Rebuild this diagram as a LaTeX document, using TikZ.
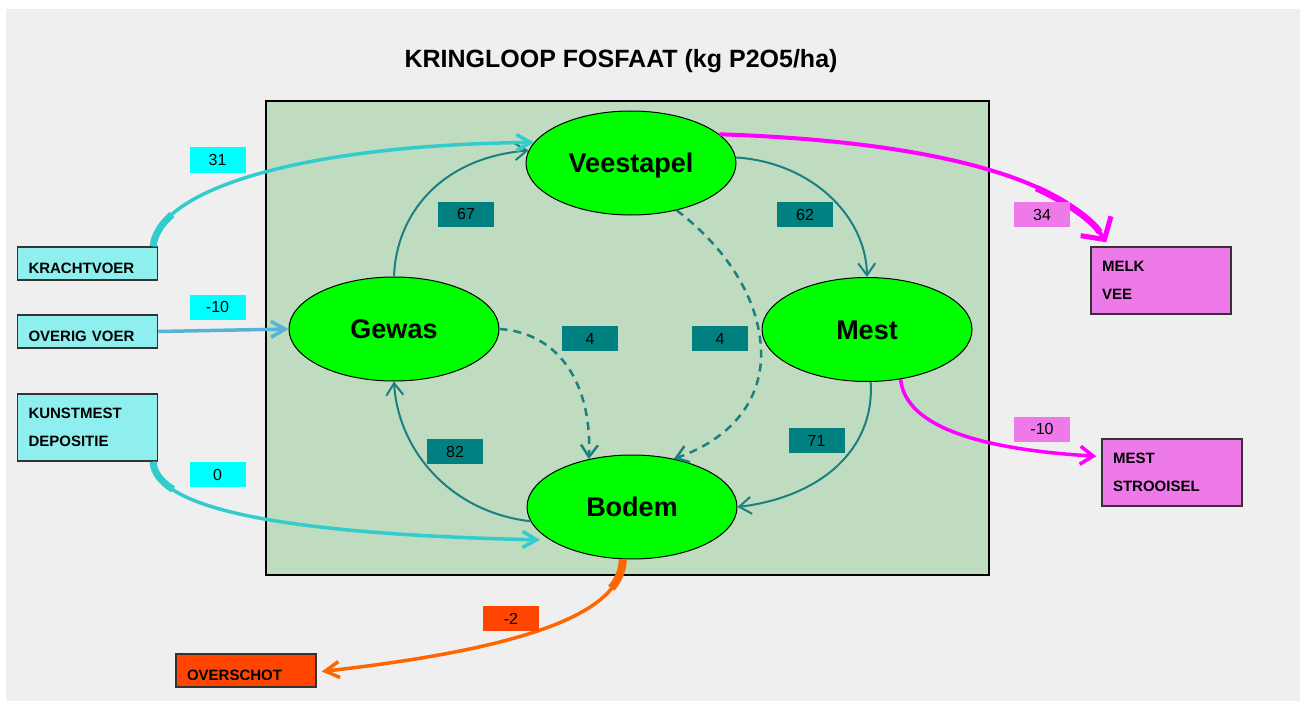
\documentclass[tikz,border=0pt]{standalone}
\usepackage{fontspec}
\setmainfont{Liberation Sans}
\usetikzlibrary{shapes.geometric,arrows.meta,calc}
\definecolor{bggray}{HTML}{EFEFEF}
\definecolor{moneygreen}{HTML}{C0DCC0}
\definecolor{limegreen}{HTML}{00FF00}
\definecolor{tealc}{HTML}{008080}
\definecolor{tealline}{HTML}{1A8080}
\definecolor{cyanlab}{HTML}{00FFFF}
\definecolor{cyanbox}{HTML}{8FEFEE}
\definecolor{cyanflow}{HTML}{33CCCC}
\definecolor{blueflow}{HTML}{58B2D6}
\definecolor{violetbox}{HTML}{EE7AE9}
\definecolor{magflow}{HTML}{FF00FF}
\definecolor{redbox}{HTML}{FF4500}
\definecolor{orangeflow}{HTML}{FF6600}
\definecolor{boxline}{HTML}{333333}
\begin{document}
\begin{tikzpicture}[x=1pt,y=-1pt,
  ell/.style={ellipse, draw=black, line width=1, fill=limegreen, minimum width=210pt, minimum height=104pt, inner sep=0pt, font=\fontsize{27}{30}\selectfont\bfseries, text height=19.3pt, text depth=0pt},
  srcbox/.style={rectangle, draw=boxline, line width=1.5, inner xsep=11pt, inner ysep=0pt, text width=118pt, align=left, font=\fontsize{15}{28}\selectfont\bfseries},
  onebox/.style={srcbox, minimum height=33pt, text height=19pt, text depth=0pt},
  twobox/.style={srcbox, minimum height=67pt},
  val/.style={rectangle, inner sep=0pt, minimum width=56pt, minimum height=25pt, text height=11.5pt, text depth=0pt, font=\fontsize{16}{18}\selectfont},
  tealflow/.style={draw=tealline, line width=2, -{Straight Barb[length=12pt,width=17pt]}},
  tealdash/.style={tealflow, line width=2.5, dash pattern=on 8pt off 6pt},
  cyanarrow/.style={draw=cyanflow, line width=3.5, -{Straight Barb[length=14pt,width=16pt]}},
  taper/.style={line width=7, line cap=butt},
]
\useasboundingbox (0,0) rectangle (1306,706);
\fill[white] (0,0) rectangle (1306,706);
\fill[bggray] (6,9) rectangle (1300,701);
\draw[fill=moneygreen, draw=black, line width=1.2] (266,101) rectangle (989,575);

\node[font=\fontsize{25}{28}\selectfont\bfseries, anchor=base] (title) at (621,68) {KRINGLOOP FOSFAAT (kg P2O5/ha)};

% ellipses
\node[ell] (vee) at (631,163) {Veestapel};
\node[ell] (gew) at (394,329) {Gewas};
\node[ell] (mest) at (867,329.5) {Mest};
\node[ell] (bod) at (632,507) {Bodem};

% source / sink boxes
\node[onebox, fill=cyanbox] (kv) at (87.5,263.5) {KRACHTVOER};
\node[onebox, fill=cyanbox] (ov) at (87.5,331.5) {OVERIG VOER};
\node[twobox, fill=cyanbox] (km) at (87.5,427.5) {KUNSTMEST\\DEPOSITIE};
\node[twobox, fill=violetbox] (mv) at (1161,280.5) {MELK\\VEE};
\node[twobox, fill=violetbox] (ms) at (1172,472.5) {MEST\\STROOISEL};
\node[onebox, fill=redbox] (os) at (246,670.5) {OVERSCHOT};

% internal flows
\draw[tealflow] (gew.north) .. controls (396,215) and (440,158) .. (vee.173);
\draw[tealflow] (vee.3) .. controls (810,162) and (866,215) .. (mest.north);
\draw[tealflow] (mest.-86) .. controls (875,450) and (820,497) .. (bod.east);
\draw[tealflow] (bod.188) .. controls (450,512) and (398,450) .. (gew.south);
\draw[tealdash] (gew.east) .. controls (560,333) and (592,385) .. (bod.132);
\draw[tealdash] (vee.-46) .. controls (735,255) and (763,310) .. (761,360) .. controls (758,410) and (722,442) .. (bod.49);

% inflows
\draw[draw=cyanflow, taper] ($(kv.north east)+(-5,0)$) .. controls (154,235.6) and (160.5,224.7) .. (172,214.5);
\draw[cyanarrow] ($(kv.north east)+(-5,0)$) .. controls (158,190) and (300,145) .. (vee.168);
\draw[draw=blueflow, line width=3.5, -{Straight Barb[length=14pt,width=16pt]}] (ov.east) -- (gew.west);
\draw[draw=cyanflow, taper] ($(km.south east)+(-5,0)$) .. controls (153.4,471.8) and (160.3,481.2) .. (173,489.4);
\draw[cyanarrow, shorten >=10pt] ($(km.south east)+(-5,0)$) .. controls (155,515) and (320,535) .. (bod.202);

% outflows
\draw[draw=magflow, line width=6.5, line cap=butt, shorten >=12pt] (1036.3,188.1) .. controls (1068.1,202.6) and (1092.2,220.4) .. ($(mv.north west)+(16,-4)$);
\draw[draw=magflow, line width=4, -{Straight Barb[length=16pt,width=36pt,line width=5pt]}] (vee.18) .. controls (900,140) and (1060,170) .. ($(mv.north west)+(16,-4)$);
\draw[draw=magflow, line width=3.5, -{Straight Barb[length=13pt,width=18pt]}] (mest.-56) .. controls (905,420) and (960,448) .. ($(ms.north west)+(-5,18)$);
\draw[draw=orangeflow, taper, line width=8] (bod.-100) .. controls (622.8,568.8) and (619,578.9) .. (611.3,588.3);
\draw[draw=orangeflow, line width=3.5, -{Straight Barb[length=14pt,width=16pt]}] (bod.-100) .. controls (622,612) and (530,648) .. ($(os.east)+(5,1)$);

% value labels
\node[val, fill=cyanlab] (l31) at (217.5,160) {31};
\node[val, fill=cyanlab] (l10a) at (217.5,307) {-10};
\node[val, fill=cyanlab] (l0) at (217.5,474.5) {0};
\node[val, fill=tealc] (l67) at (466,214) {67};
\node[val, fill=tealc] (l82) at (455,451.5) {82};
\node[val, fill=tealc] (l62) at (805,214.5) {62};
\node[val, fill=tealc] (l71) at (816.5,440.5) {71};
\node[val, fill=tealc] (l4a) at (590,338.5) {4};
\node[val, fill=tealc] (l4b) at (720,338.5) {4};
\node[val, fill=violetbox] (l34) at (1042,214.5) {34};
\node[val, fill=violetbox] (l10b) at (1042,429) {-10};
\node[val, fill=redbox] (l2) at (511,618.5) {-2};
\end{tikzpicture}
\end{document}
